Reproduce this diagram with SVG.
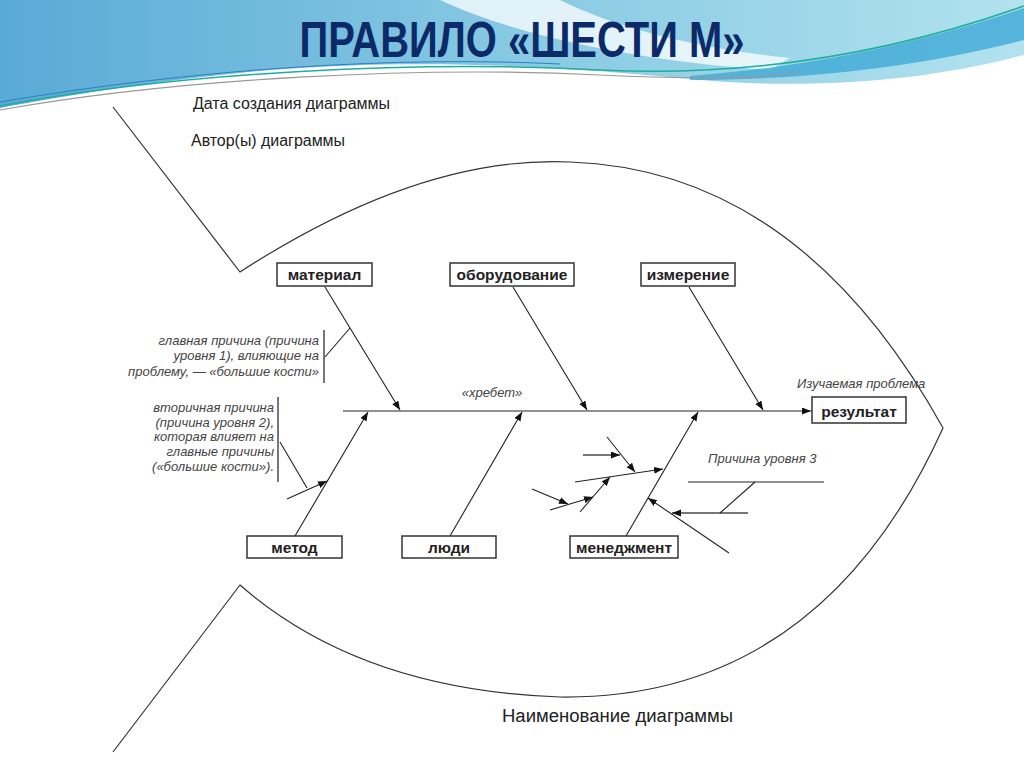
<svg xmlns="http://www.w3.org/2000/svg" width="1024" height="767" viewBox="0 0 1024 767">
<style>
.box{fill:#fff;stroke:#333;stroke-width:1.5}
.bt{font-family:"Liberation Sans",Arial,sans-serif;font-weight:bold;font-size:15.5px;fill:#222;text-anchor:middle}
.ln{stroke:#222;stroke-width:1.1;fill:none}
.gl{stroke:#777;stroke-width:2;fill:none}
.it{font-family:"Liberation Sans",Arial,sans-serif;font-style:italic;font-size:13px;fill:#444}
.tx{font-family:"Liberation Sans",Arial,sans-serif;fill:#222}
.fish{stroke:#333;stroke-width:1.2;fill:none}
</style>
<defs>
<marker id="ar" markerUnits="userSpaceOnUse" markerWidth="10" markerHeight="8" refX="9" refY="3.5" orient="auto">
<path d="M0,0 L9,3.5 L0,7 z" fill="#111"/>
</marker>
<linearGradient id="hg" x1="0" y1="0" x2="1" y2="0">
<stop offset="0" stop-color="#5aaad6"/>
<stop offset="0.5" stop-color="#86c9e3"/>
<stop offset="1" stop-color="#b2e2ee"/>
</linearGradient>
</defs>
<rect width="1024" height="767" fill="#fff"/>
<g id="header">
<path d="M0,0 H1024 V55 C 930,80 820,90 700,80 C 560,66 420,58 270,70 C 160,80 70,95 0,108 Z" fill="url(#hg)"/>
<path d="M440,0 L560,0 C 610,25 690,48 790,58 L770,70 C 650,62 520,38 440,0 Z" fill="#fff" opacity="0.75"/>
<path d="M690,76 C 820,66 930,40 1024,8 V40 C 930,64 820,80 690,80 Z" fill="#3ea9d6" opacity="0.8"/>
<path d="M0,106 C 180,72 420,60 600,70 C 760,78 900,50 1024,6" stroke="#1fae9c" stroke-width="1.5" fill="none"/>
<path d="M0,110 C 180,78 420,66 600,75 C 700,80 760,78 800,72" stroke="#999" stroke-width="1.2" fill="none"/>
<path d="M0,102 C 200,68 400,56 560,64" stroke="#2a7fc8" stroke-width="1" fill="none"/>
<text x="522" y="57" text-anchor="middle" font-family="Liberation Sans,Arial,sans-serif" font-weight="bold" font-size="50" fill="#0c2a68" textLength="445" lengthAdjust="spacingAndGlyphs">ПРАВИЛО «ШЕСТИ М»</text>
</g>
<g id="fish-outline">
<path class="fish" d="M113,107 L240,272 Q420,155 570,162 Q800,170 943,428 Q820,700 560,697 Q360,690 240,585 L113,752"/>
</g>
<g id="labels">
<text class="tx" x="193" y="109" font-size="16" textLength="197" lengthAdjust="spacingAndGlyphs">Дата создания диаграммы</text>
<text class="tx" x="191" y="146" font-size="16" textLength="154" lengthAdjust="spacingAndGlyphs">Автор(ы) диаграммы</text>
<text class="tx" x="502" y="722" font-size="18" textLength="231" lengthAdjust="spacingAndGlyphs">Наименование диаграммы</text>
<text class="it" x="492" y="397" text-anchor="middle">«хребет»</text>
<text class="it" x="797" y="388">Изучаемая проблема</text>
<text class="it" x="708" y="463">Причина уровня 3</text>
<g text-anchor="end">
<text class="it" x="319" y="345">главная причина (причина</text>
<text class="it" x="319" y="360">уровня 1), влияющие на</text>
<text class="it" x="319" y="376">проблему, — «большие кости»</text>
<text class="it" x="274" y="412">вторичная причина</text>
<text class="it" x="274" y="427">(причина уровня 2),</text>
<text class="it" x="274" y="441">которая влияет на</text>
<text class="it" x="274" y="456">главные причины</text>
<text class="it" x="274" y="471">(«большие кости»).</text>
</g>
</g>
<g id="connectors">
<line class="ln" x1="343" y1="411" x2="811" y2="411" marker-end="url(#ar)"/>
<line class="ln" x1="325" y1="287" x2="400" y2="410" marker-end="url(#ar)"/>
<line class="ln" x1="513" y1="287" x2="587" y2="410" marker-end="url(#ar)"/>
<line class="ln" x1="689" y1="287" x2="763" y2="410" marker-end="url(#ar)"/>
<line class="ln" x1="295" y1="536" x2="368" y2="412" marker-end="url(#ar)"/>
<line class="ln" x1="450" y1="536" x2="522" y2="412" marker-end="url(#ar)"/>
<line class="ln" x1="626" y1="536" x2="698" y2="412" marker-end="url(#ar)"/>
<line class="ln" x1="287" y1="499" x2="327" y2="481" marker-end="url(#ar)"/>
<line class="ln" x1="575" y1="482" x2="663" y2="469" marker-end="url(#ar)"/>
<line class="ln" x1="607" y1="437" x2="635" y2="472" marker-end="url(#ar)"/>
<line class="gl" x1="583" y1="455" x2="620" y2="455" marker-end="url(#ar)"/>
<line class="ln" x1="580" y1="512" x2="610" y2="477" marker-end="url(#ar)"/>
<line class="ln" x1="550" y1="510" x2="593" y2="497" marker-end="url(#ar)"/>
<line class="ln" x1="532" y1="489" x2="568" y2="504" marker-end="url(#ar)"/>
<line class="ln" x1="729" y1="553" x2="648" y2="498" marker-end="url(#ar)"/>
<line class="gl" x1="748" y1="513" x2="672" y2="513" marker-end="url(#ar)"/>
<line class="ln" x1="688" y1="482" x2="824" y2="482" stroke-width="1.5"/>
<line class="ln" x1="755" y1="482" x2="720" y2="513"/>
<line class="gl" x1="324" y1="330" x2="324" y2="383"/>
<line class="ln" x1="325" y1="357" x2="350" y2="328"/>
<line class="gl" x1="278" y1="397" x2="278" y2="482"/>
<line class="ln" x1="280" y1="442" x2="307" y2="488"/>
</g>
<g id="node-material"><rect class="box" x="277" y="263" width="95" height="23"/><text class="bt" x="324.5" y="280">материал</text></g>
<g id="node-equipment"><rect class="box" x="450" y="263" width="124" height="23"/><text class="bt" x="512" y="280">оборудование</text></g>
<g id="node-measure"><rect class="box" x="641" y="263" width="94" height="23"/><text class="bt" x="688" y="280">измерение</text></g>
<g id="node-method"><rect class="box" x="247" y="536" width="95" height="22"/><text class="bt" x="294.5" y="552.5">метод</text></g>
<g id="node-people"><rect class="box" x="402" y="536" width="94" height="22"/><text class="bt" x="449" y="552.5">люди</text></g>
<g id="node-management"><rect class="box" x="570" y="536" width="108" height="22"/><text class="bt" x="624" y="552.5">менеджмент</text></g>
<g id="node-result"><rect class="box" x="812" y="397" width="94" height="26"/><text class="bt" x="859" y="417" font-size="19">результат</text></g>
</svg>
